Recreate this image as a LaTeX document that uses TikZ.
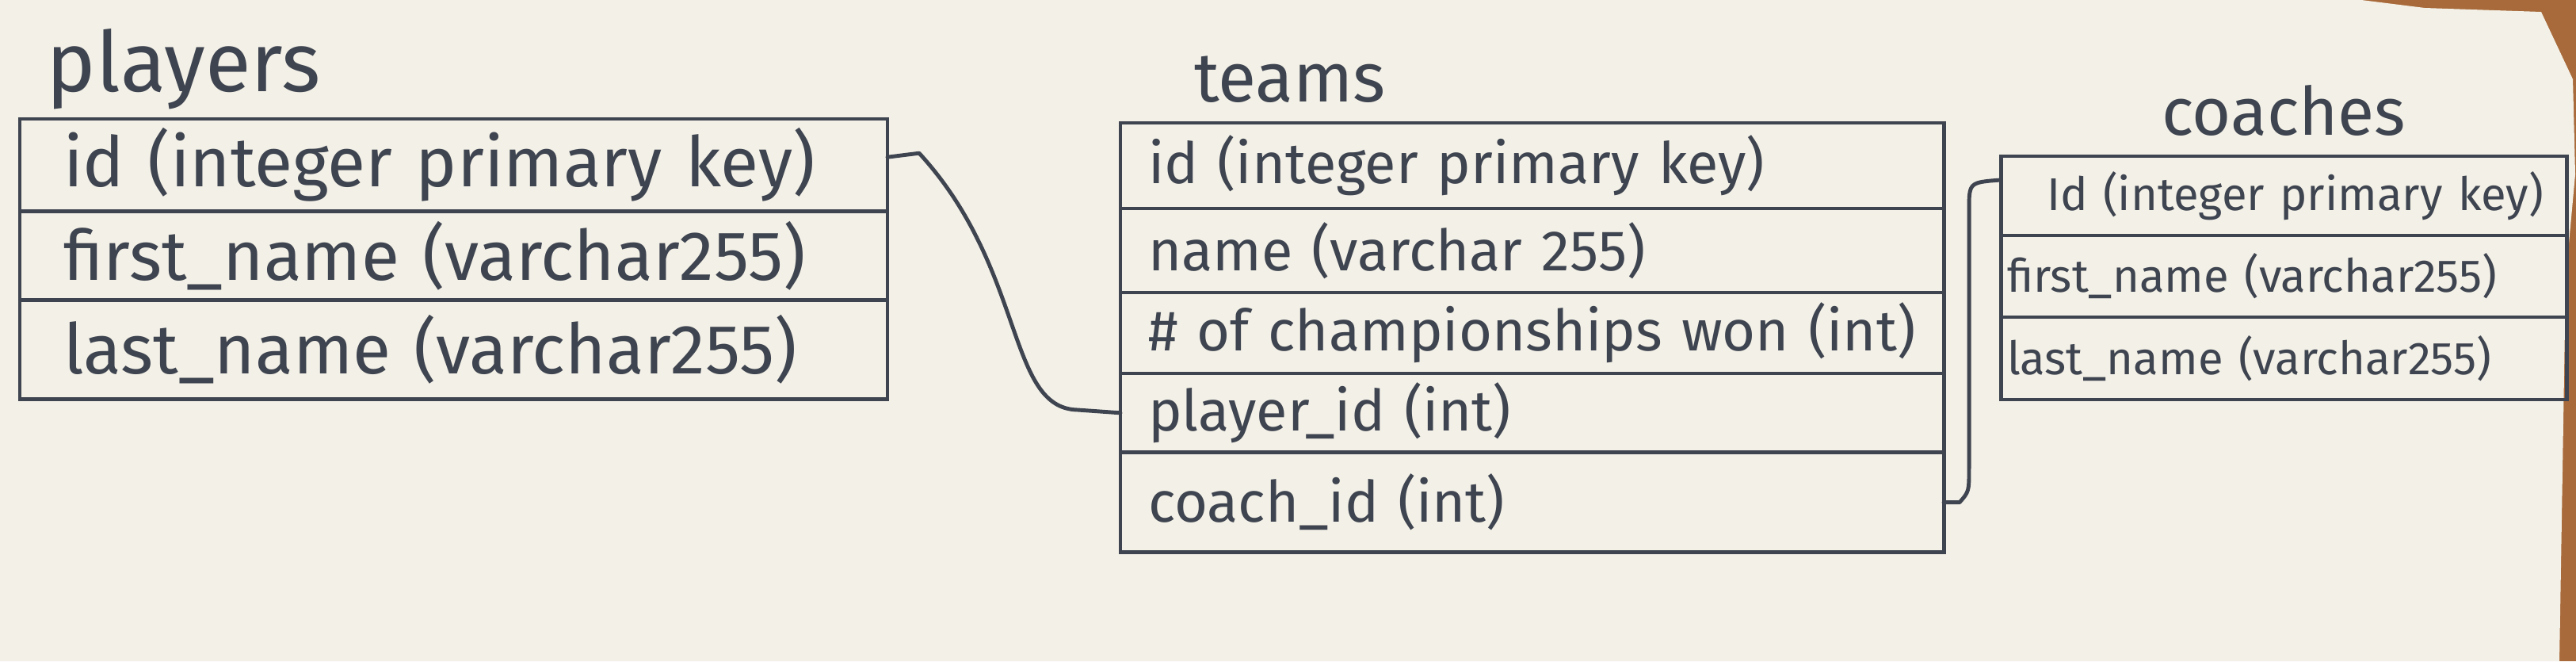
\documentclass[tikz,border=0pt]{standalone}
\usepackage{fontspec}
\setmainfont{Fira Sans}
\definecolor{pen}{HTML}{3F4550}
\definecolor{paper}{HTML}{F3F0E7}
\definecolor{wood}{HTML}{A86A3A}
\tikzset{
  cell/.style={draw=pen, line width=1.4pt, anchor=north west, outer sep=0pt, text=pen, align=left},
  prow/.style={cell, inner xsep=0.55cm, text width=9.85cm, font=\fontsize{25}{28}\selectfont},
  trow/.style={cell, inner xsep=0.35cm, text width=9.69cm, font=\fontsize{20.5}{24}\selectfont},
  crow/.style={cell, inner xsep=0.08cm, text width=6.98cm, font=\fontsize{16.5}{19}\selectfont},
  title/.style={text=pen},
  conn/.style={draw=pen, line width=1.4pt, line cap=round, line join=round}
}
\begin{document}
\begin{tikzpicture}
\fill[wood] (0,0) rectangle (32.51,-8.34);
\fill[paper] (0,0) -- (29.8,0) -- (30.6,-0.1) -- (32.07,-0.15) -- (32.47,-1.0) -- (32.5,-2.2) -- (32.38,-3.5) -- (32.30,-8.34) -- (0,-8.34) -- cycle;
\useasboundingbox (0,0) rectangle (32.51,-8.34);

% players
\node[title, font=\fontsize{30}{34}\selectfont] (plbl) at (2.32,-0.87) {players};
\node[prow, minimum height=1.15cm] (p1) at (0.25,-1.50) {id (integer primary key)};
\node[prow, minimum height=1.12cm] (p2) at (p1.south west) {first\_name (varchar255)};
\node[prow, minimum height=1.25cm] (p3) at (p2.south west) {last\_name (varchar255)};

% teams
\node[title, font=\fontsize{25}{28}\selectfont] (tlbl) at (16.28,-1.00) {teams};
\node[trow, minimum height=1.08cm] (t1) at (14.14,-1.55) {id (integer primary key)};
\node[trow, minimum height=1.06cm] (t2) at (t1.south west) {name (varchar 255)};
\node[trow, minimum height=1.02cm] (t3) at (t2.south west) {\# of championships won (int)};
\node[trow, minimum height=0.93cm] (t4) at (t3.south west) {player\_id (int)};
\node[trow, minimum height=1.26cm] (t5) at (t4.south west) {coach\_id (int)};

% coaches
\node[title, font=\fontsize{24}{28}\selectfont] (clbl) at (28.82,-1.39) {coaches};
\node[crow, minimum height=1.00cm] (c1) at (25.25,-1.97) {\hspace{0.5cm}Id (integer primary key)};
\node[crow, minimum height=1.03cm] (c2) at (c1.south west) {first\_name (varchar255)};
\node[crow, minimum height=1.04cm] (c3) at (c2.south west) {last\_name (varchar255)};

% connectors
\coordinate (k1) at ([yshift=1mm]p1.east);
\draw[conn] (k1) -- ++(0.4,0.05) .. controls (12.95,-3.4) and (12.7,-5.15) .. (13.6,-5.17) -- (t4.west);
\coordinate (k2) at ([yshift=2mm]c1.west);
\draw[conn] (t5.east) -- ++(0.2,0) .. controls (24.85,-6.2) .. (24.85,-5.9) -- (24.85,-2.65) .. controls (24.85,-2.3) .. (k2);
\end{tikzpicture}
\end{document}
